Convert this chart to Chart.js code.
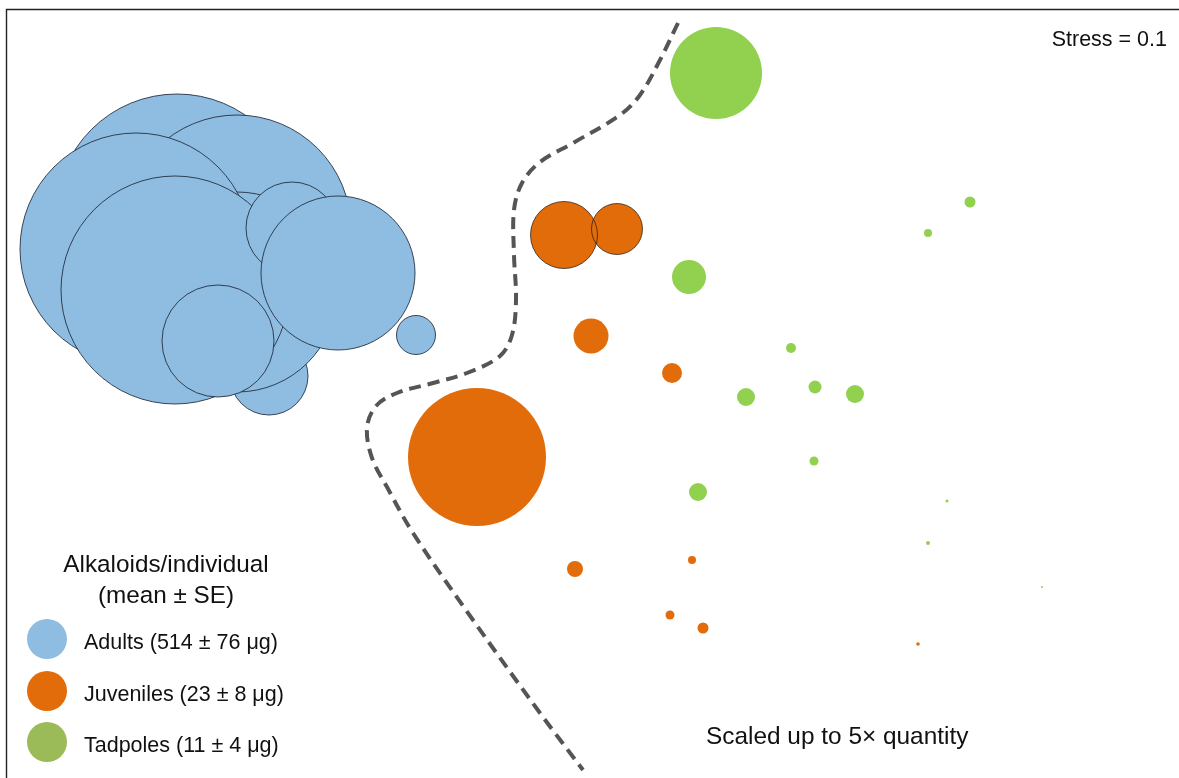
<!DOCTYPE html>
<html>
<head>
<meta charset="utf-8">
<script src="https://cdn.jsdelivr.net/npm/chart.js@4/dist/chart.umd.min.js"></script>
<style>
  html, body { margin: 0; padding: 0; background: #fff; }
  #wrap { width: 1179px; height: 778px; position: relative; }
</style>
</head>
<body>
<div id="wrap"><canvas id="nmds"></canvas></div>
<script>
// NMDS positions (plot units, origin top-left), radius in px
// adults - listed in drawing order (back to front)
const adultX = [177, 237, 269, 237, 136, 175, 292, 218, 338, 416];
const adultY = [215, 229, 376, 292, 249, 290, 228, 341, 273, 335];
const adultR = [121, 114, 39, 100, 116, 114, 46, 56, 77, 19.5];

// juveniles
const juvX = [564, 617, 591, 672, 477, 575, 692, 670, 703, 918];
const juvY = [235, 229, 336, 373, 457, 569, 560, 615, 628, 644];
const juvR = [33.5, 25.5, 17.5, 10, 69, 8, 4, 4.5, 5.5, 1.8];

// tadpoles
const tadX = [716, 689, 746, 791, 815, 855, 814, 698, 970, 928, 947, 928, 1042];
const tadY = [73, 277, 397, 348, 387, 394, 461, 492, 202, 233, 501, 543, 587];
const tadR = [46, 17, 9, 5, 6.5, 9, 4.5, 9, 5.5, 4, 1.5, 2, 1];

// dashed separation curve
const sepX = [678, 660, 640, 620, 573, 540, 522, 514, 514, 516, 512, 500, 467, 433, 397, 376, 367, 372, 387, 413, 473, 540, 583];
const sepY = [23, 60, 95, 115, 143, 162, 183, 210, 255, 300, 335, 356, 373, 383, 393, 406, 428, 458, 487, 533, 620, 713, 770];

// legend text
const legendTitle = ['Alkaloids/individual', '(mean \u00b1 SE)'];
const legendLabels = ['Adults (514 \u00b1 76 \u03bcg)', 'Juveniles (23 \u00b1 8 \u03bcg)', 'Tadpoles (11 \u00b1 4 \u03bcg)'];
const legendColors = ['#8EBDE1', '#E36C0A', '#9BBB59'];
const stressText = 'Stress = 0.1';
const scaleNote = 'Scaled up to 5\u00d7 quantity';

function toPoints(xs, ys, rs) {
    return xs.map((x, i) => ({ x: x, y: ys[i], r: rs ? rs[i] : 0 }));
}

const FONT = '"Liberation Sans", Arial, Helvetica, sans-serif';

// frame, legend and notes
const decorations = {
    id: 'decorations',
    afterDraw(chart) {
        const ctx = chart.ctx;
        ctx.save();
        // frame (only top + left edges are inside the picture)
        ctx.strokeStyle = '#222';
        ctx.lineWidth = 1.4;
        ctx.beginPath();
        ctx.moveTo(6.5, 778);
        ctx.lineTo(6.5, 9.5);
        ctx.lineTo(1179, 9.5);
        ctx.stroke();

        ctx.fillStyle = '#111';
        ctx.textBaseline = 'alphabetic';

        ctx.font = '21.5px ' + FONT;
        ctx.textAlign = 'right';
        ctx.fillText(stressText, 1167, 46);

        ctx.font = '24.3px ' + FONT;
        ctx.textAlign = 'center';
        ctx.fillText(legendTitle[0], 166, 572);
        ctx.fillText(legendTitle[1], 166, 603);

        ctx.font = '21.5px ' + FONT;
        ctx.textAlign = 'left';
        const rowY = [639, 691, 742];
        legendLabels.forEach((lbl, i) => {
            ctx.fillStyle = legendColors[i];
            ctx.beginPath();
            ctx.arc(47, rowY[i], 20, 0, Math.PI * 2);
            ctx.fill();
            ctx.fillStyle = '#111';
            ctx.fillText(lbl, 84, rowY[i] + 10);
        });

        ctx.font = '24.4px ' + FONT;
        ctx.fillText(scaleNote, 706, 744);
        ctx.restore();
    }
};

const ctx = document.getElementById('nmds').getContext('2d');
new Chart(ctx, {
    type: 'bubble',
    data: {
        datasets: [
            {
                label: 'separation',
                type: 'line',
                data: toPoints(sepX, sepY),
                borderColor: '#555555',
                borderWidth: 4,
                borderDash: [12, 7],
                pointRadius: 0,
                tension: 0.35,
                fill: false,
                order: 0
            },
            {
                label: 'Juveniles outline',
                data: toPoints(juvX, juvY, juvR),
                backgroundColor: 'rgba(0,0,0,0)',
                borderColor: 'rgba(40,30,20,0.75)',
                borderWidth: juvR.map((r, i) => (i < 2 ? 1 : 0)),
                order: 1
            },
            {
                label: 'Juveniles',
                data: toPoints(juvX, juvY, juvR),
                backgroundColor: '#E36C0A',
                borderWidth: 0,
                order: 2
            },
            {
                label: 'Tadpoles',
                data: toPoints(tadX, tadY, tadR),
                backgroundColor: '#92D050',
                borderWidth: 0,
                order: 3
            },
            {
                label: 'Adults',
                data: toPoints(adultX, adultY, adultR),
                backgroundColor: '#8EBDE1',
                borderColor: 'rgba(30,40,55,0.85)',
                borderWidth: 1,
                order: 4
            }
        ]
    },
    options: {
        responsive: true,
        maintainAspectRatio: false,
        animation: false,
        events: [],
        layout: { padding: 0, autoPadding: false },
        plugins: {
            legend: { display: false },
            tooltip: { enabled: false },
            title: { display: false }
        },
        scales: {
            x: { type: 'linear', min: 0, max: 1179, display: false },
            y: { type: 'linear', min: 0, max: 778, reverse: true, display: false }
        }
    },
    plugins: [decorations]
});
</script>
</body>
</html>
